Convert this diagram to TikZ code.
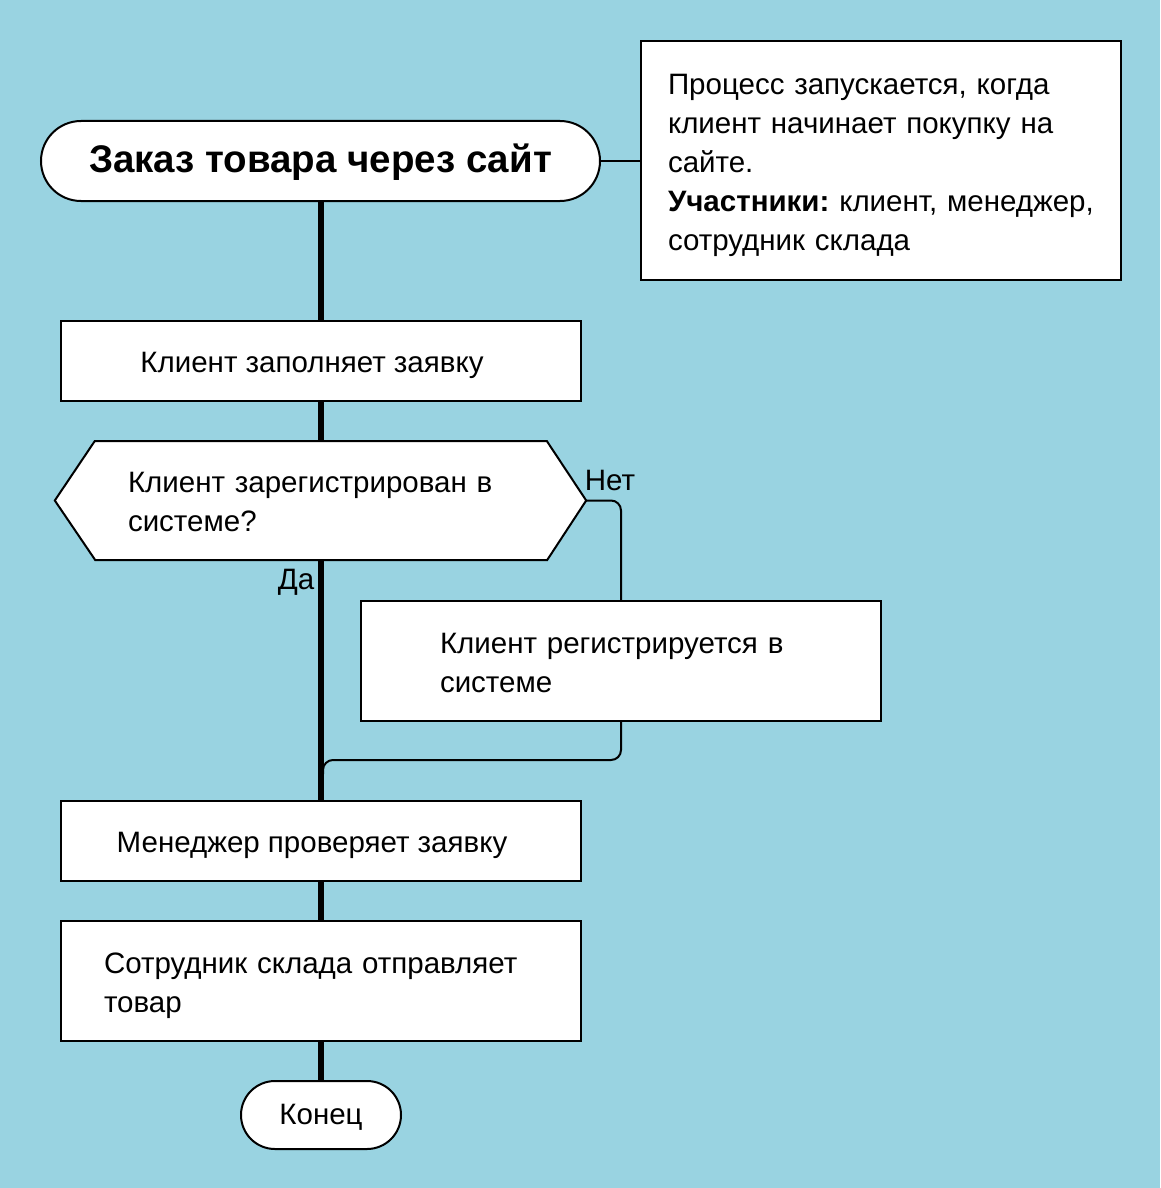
\documentclass[tikz,border=0pt]{standalone}
\usepackage{fontspec}
\setmainfont{Liberation Sans}
\frenchspacing
\newcommand{\topst}{\rule{0pt}{30pt}}
\newcommand{\botst}{\rule[-6.2pt]{0pt}{6.2pt}}
\begin{document}
\begin{tikzpicture}[x=1pt,y=-1pt,
  every node/.style={font=\fontsize{29.5}{39}\selectfont},
  box/.style={draw=black, line width=2pt, fill=white, inner sep=0pt},
  term/.style={box, rounded corners=40pt},
  flow/.style={line width=6pt},
  thinline/.style={line width=2pt},
  lbl/.style={inner sep=0pt}]
\definecolor{bg}{RGB}{153,211,225}
\fill[bg] (0,0) rectangle (1160,1188);
\useasboundingbox (0,0) rectangle (1160,1188);

% nodes
\node[term, minimum width=559, minimum height=80, font=\fontsize{38.5}{44}\selectfont\bfseries] (start) at (320.5,161) {\rule{0pt}{30pt}Заказ товара через сайт\rule[-5.8pt]{0pt}{5.8pt}};
\node[box, minimum width=480, minimum height=239, inner xsep=27pt, text width=426pt, align=left] (note) at (881,160.5)
  {\topst Процесс запускается, когда\\клиент начинает покупку на\\сайте.\\\mbox{\textbf{Участники:} клиент, менеджер,}\\сотрудник склада\botst};
\node[box, minimum width=520, minimum height=80] (fill) at (321,361) {\topst Клиент заполняет заявку\botst\hspace*{18pt}};
\node[inner sep=0pt, minimum width=531, minimum height=119] (dec) at (320.5,500.5) {};
\draw[box] (dec.west) -- ++(40,-59.5) -- ++(452,0) -- (dec.east) -- ++(-39,59.5) -- ++(-452,0) -- cycle;
\node[inner xsep=73pt, inner ysep=0pt, text width=385pt, align=left] (dectext) at (dec.center) {\topst Клиент зарегистрирован в\\системе?\botst};
\node[box, minimum width=520, minimum height=120, inner xsep=79pt, text width=362pt, align=left] (reg) at (621,661) {\topst Клиент регистрируется в\\системе\botst};
\node[box, minimum width=520, minimum height=80] (check) at (321,841) {\topst Менеджер проверяет заявку\botst\hspace*{18pt}};
\node[box, minimum width=520, minimum height=120, inner xsep=43pt, text width=434pt, align=left] (ship) at (321,981) {\topst Сотрудник склада отправляет\\товар\botst};
\node[term, minimum width=160, minimum height=68, rounded corners=34pt] (end) at (321,1115) {\topst Конец\rule[-11pt]{0pt}{11pt}};

\node[lbl] (no) at (610,480) {Нет};
\node[lbl] (yes) at (296,582) {Да};

% connectors
\draw[thinline] (start.east) -- (note.west |- start.east);
\draw[flow] (start.south -| fill.north) -- (fill.north);
\draw[flow] (fill.south) -- (dec.north -| fill.south);
\draw[flow] (dec.south -| check.north) -- (check.north);
\draw[flow] (check.south) -- (ship.north);
\draw[flow] (ship.south) -- (end.north);
\coordinate (join) at (323,760);
\draw[thinline, rounded corners=10pt] (dec.east) -| (reg.north);
\draw[thinline, rounded corners=10pt] (reg.south) |- (join) -- ++(0,14);
\end{tikzpicture}
\end{document}
